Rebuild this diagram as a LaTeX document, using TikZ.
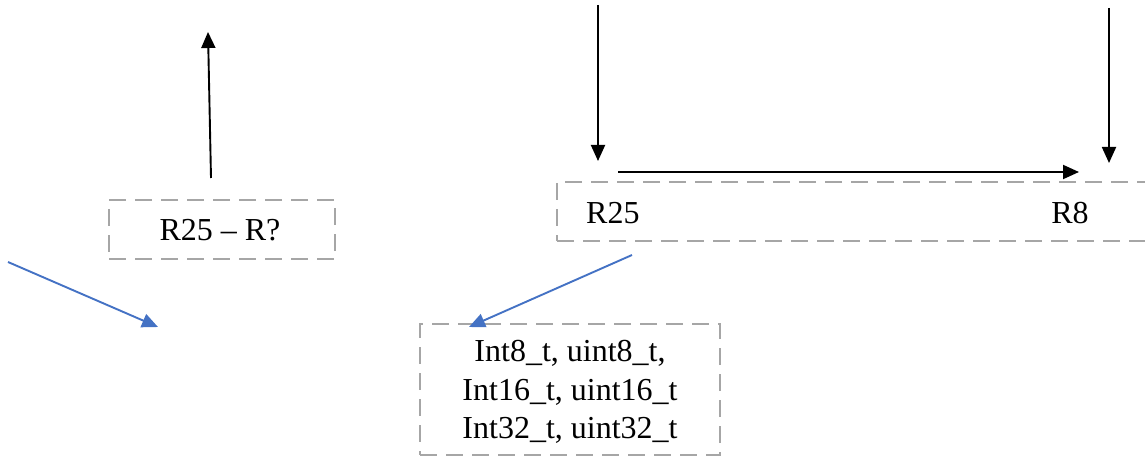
\documentclass[tikz,border=0pt]{standalone}
\usepackage{fontspec}
\setmainfont{Liberation Serif}
\usetikzlibrary{arrows.meta}
\definecolor{dashgray}{HTML}{A6A6A6}
\definecolor{arrowblue}{HTML}{4472C4}
\begin{document}
\begin{tikzpicture}[x=1pt,y=-1pt,
  dbox/.style={draw=dashgray,line width=2pt,dash pattern=on 17pt off 9pt,inner sep=0pt},
  lbl/.style={font=\fontsize{32}{38.5}\selectfont,inner sep=0pt},
  blk/.style={draw=black,line width=1.9pt,-{Triangle[length=16pt,width=14pt]}},
  blu/.style={draw=arrowblue,line width=1.9pt,-{Triangle[length=16pt,width=14pt]}}]
\useasboundingbox (0,0) rectangle (1145,457);
\begin{scope}
\clip (0,0) rectangle (1145,457);
% boxes
\node[dbox,minimum width=226pt,minimum height=59pt] (b1) at (222,229.5) {};
\node[dbox,minimum width=620pt,minimum height=59pt] (b2) at (867,211.5) {};
\node[dbox,minimum width=300pt,minimum height=131pt] (b3) at (570,389.5) {};
\end{scope}
% texts
\node[lbl] (t1) at (220,230) {R25 -- R?};
\node[lbl,anchor=west] (t2) at (586,213) {R25};
\node[lbl] (t3) at (1070,213) {R8};
\node[lbl,align=center] (t4) at (570,392) {Int8\_t, uint8\_t,\\Int16\_t, uint16\_t\\Int32\_t, uint32\_t};
% connector ends
\coordinate (u0) at (211,178);
\coordinate (u1) at (208,32);
\coordinate (d0) at (598,5);
\coordinate (d1) at (598,161);
\coordinate (r0) at (618,172);
\coordinate (r1) at (1079,172);
\coordinate (e0) at (1109,8);
\coordinate (e1) at (1109,163);
\coordinate (a0) at (8,262);
\coordinate (a1) at (158,327);
\coordinate (c0) at (632,255);
\coordinate (c1) at (469,327);
% connectors
\draw[blk] (u0) -- (u1);
\draw[blk] (d0) -- (d1);
\draw[blk] (r0) -- (r1);
\draw[blk] (e0) -- (e1);
\draw[blu] (a0) -- (a1);
\draw[blu] (c0) -- (c1);
\end{tikzpicture}
\end{document}
